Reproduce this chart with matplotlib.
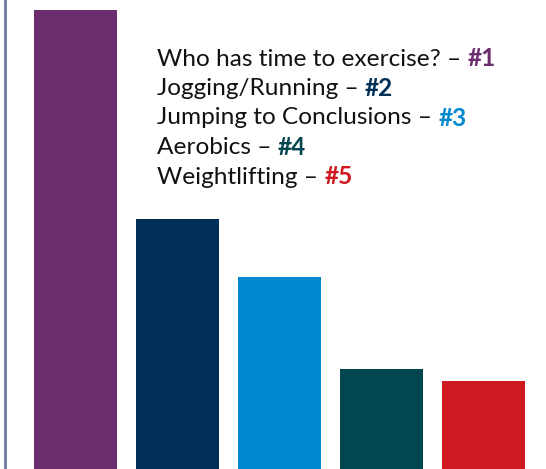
import matplotlib
matplotlib.use('Agg')
import matplotlib.pyplot as plt

# data (bar heights, arbitrary units)
activities = ["Who has time to exercise?", "Jogging/Running", "Jumping to Conclusions",
              "Aerobics", "Weightlifting"]
ranks = ["#1", "#2", "#3", "#4", "#5"]
values = [100, 54.5, 41.8, 21.8, 19.2]
colors = ["#6b2d6e", "#003057", "#0088d1", "#02464f", "#cf181f"]

plt.rcParams['font.family'] = ['Lato', 'DejaVu Sans']

fig = plt.figure(figsize=(5.46, 4.69), dpi=100)
ax = fig.add_axes([0, 0, 1, 1])
ax.bar(range(len(values)), values, width=0.81, color=colors)
ax.set_xlim(-0.740, 4.613)
ax.set_ylim(0, 102.2)

for s in ["top", "right", "bottom"]:
    ax.spines[s].set_visible(False)
ax.spines["left"].set_color("#6a7a99")
ax.spines["left"].set_linewidth(2)
ax.spines["left"].set_position(("data", -0.740 + 5.5 / 102))
ax.set_xticks([])
ax.set_yticks([])

# legend-like text block
fig.canvas.draw()
r = fig.canvas.get_renderer()
x0 = 157
y0 = 469 - 59
step = 29.5
fs = 17.6
for i, (a, rk, c) in enumerate(zip(activities, ranks, colors)):
    y = y0 - i * step
    t = fig.text(x0 / 546, y / 469, a + " \u2013 ", fontsize=fs, color="#111111",
                 va="center", ha="left")
    bb = t.get_window_extent(r)
    fig.text(bb.x1 / 546, y / 469, rk, fontsize=fs, color=c, fontweight="bold",
             va="center", ha="left")

plt.savefig("out.png", dpi=100)
